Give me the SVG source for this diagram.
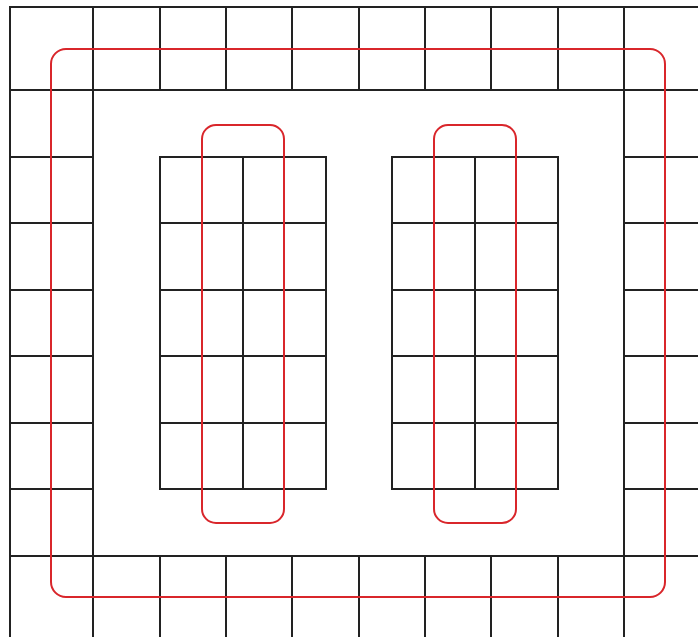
<svg xmlns="http://www.w3.org/2000/svg" width="698" height="637" viewBox="0 0 698 637">
<style>
.g{stroke:#222;stroke-width:2;fill:none;stroke-linecap:square}
.r{stroke:#d9262b;stroke-width:2;fill:none}
</style>
<rect width="698" height="637" fill="#fff"/>
<g id="outer-grid" class="g">
<path d="M10 7H698M10 90H698M10 556H698M10 7V637M93 7V637M624 7V637"/>
<path d="M160 7V90M226 7V90M292 7V90M359 7V90M425 7V90M491 7V90M558 7V90"/>
<path d="M160 556V637M226 556V637M292 556V637M359 556V637M425 556V637M491 556V637M558 556V637"/>
<path d="M10 157H93M10 223H93M10 290H93M10 356H93M10 423H93M10 489H93"/>
<path d="M624 157H698M624 223H698M624 290H698M624 356H698M624 423H698M624 489H698"/>
</g>
<g id="inner-grid-left" class="g">
<rect x="160" y="157" width="166" height="332"/>
<path d="M243 157V489M160 223H326M160 290H326M160 356H326M160 423H326"/>
</g>
<g id="inner-grid-right" class="g">
<rect x="392" y="157" width="166" height="332"/>
<path d="M475 157V489M392 223H558M392 290H558M392 356H558M392 423H558"/>
</g>
<g id="loops" class="r">
<rect id="loop-outer" x="51" y="49" width="614" height="548" rx="15"/>
<rect id="loop-left" x="202" y="125" width="82" height="398" rx="14"/>
<rect id="loop-right" x="434" y="125" width="82" height="398" rx="14"/>
</g>
</svg>
